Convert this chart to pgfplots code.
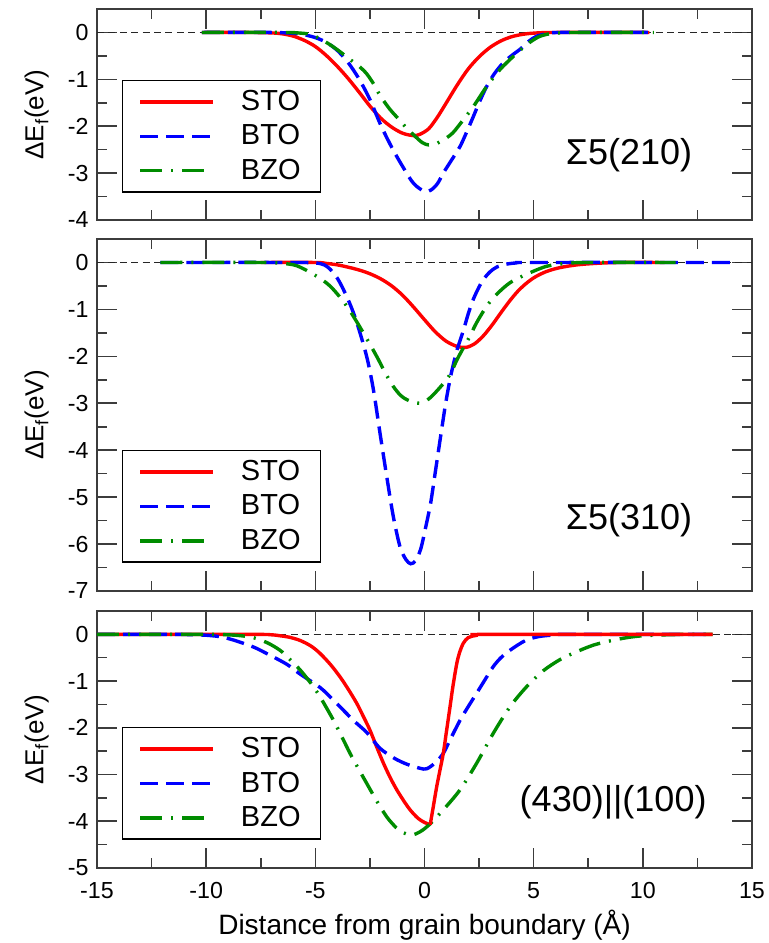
\documentclass[border=0pt]{standalone}
\usepackage{fontspec}
\setmainfont{Liberation Sans}
\usepackage{pgfplots}
\pgfplotsset{compat=1.18}

\definecolor{cRed}{RGB}{255,0,0}
\definecolor{cBlue}{RGB}{0,0,255}
\definecolor{cGreen}{RGB}{0,140,0}
\definecolor{cFrame}{RGB}{60,60,60}

\pgfplotsset{
  panel/.style={
    scale only axis, width=327.5pt,
    xmin=-15, xmax=15,
    xtick={-15,-10,...,15}, minor x tick num=1, minor y tick num=1,
    tick align=inside,
    major tick length=10pt, minor tick length=5pt,
    axis line style={cFrame, line width=0.8pt},
    tick style={cFrame, line width=0.8pt},
    /pgf/number format/assume math mode=true,
    tick label style={font=\fontsize{11.6}{13}\selectfont},
    xticklabel style={yshift=-3.9pt},
    yticklabel style={xshift=-0.7pt},
    every axis y label/.style={at={(axis description cs:-0.092,0.5)}, rotate=90, anchor=center, font=\fontsize{13}{15}\selectfont},
    ylabel={ΔE\textsubscript{f}(eV)},
    legend cell align=left,
    legend image code/.code={\draw[##1] (0pt,0pt) -- (36.5pt,0pt);},
    legend style={draw=black, line width=0.7pt, fill=white, anchor=north west,
      font=\fontsize{14.5}{16}\selectfont, inner xsep=8pt, inner ysep=2.8pt,
      row sep=1.6pt, nodes={inner sep=2pt},
      /tikz/every odd column/.append style={column sep=11pt}},
  },
  zero/.style={black!85, line width=0.6pt, dash pattern=on 3.5pt off 2.2pt, forget plot},
  sto/.style={cRed, line width=1.7pt, smooth},
  bto/.style={cBlue, line width=1.7pt, smooth, dash pattern=on 9pt off 4pt},
  bzo/.style={cGreen, line width=1.7pt, smooth, dash pattern=on 11pt off 4.5pt on 1pt off 4.5pt},
}

\begin{document}
\begin{tikzpicture}
\useasboundingbox (0pt,0pt) rectangle (384pt,-471.5pt);

% ---------- Panel 1 ----------
\begin{axis}[panel, at={(48.5pt,-110pt)}, anchor=south west, height=105.5pt,
  ymin=-4, ymax=0.5, ytick={-4,-3,...,0}, xticklabels={},
  legend style={at={(0.038,0.664)}}]
\addplot[zero] coordinates {(-15,0) (15,0)};
\addplot[sto] coordinates {(-10.2,0) (-8,0) (-7,-0.01) (-6.5,-0.03) (-6,-0.08) (-5.5,-0.17) (-5,-0.3) (-4.5,-0.49) (-4,-0.72) (-3.5,-0.98) (-3,-1.27) (-2.5,-1.57) (-2,-1.83) (-1.5,-2.02) (-1,-2.15) (-0.5,-2.2) (-0.2,-2.17) (0.2,-2.05) (0.6,-1.8) (1,-1.5) (1.5,-1.12) (2,-0.78) (2.5,-0.52) (3,-0.32) (3.5,-0.18) (4,-0.09) (4.5,-0.04) (5,-0.015) (6,0) (10.3,0)};
\addlegendentry{STO}
\addplot[bto] coordinates {(-10.2,0) (-7,0) (-6,-0.02) (-5.5,-0.05) (-5,-0.11) (-4.5,-0.21) (-4,-0.38) (-3.5,-0.64) (-3,-0.99) (-2.5,-1.43) (-2,-1.98) (-1.5,-2.45) (-1,-2.86) (-0.5,-3.22) (0,-3.39) (0.3,-3.36) (0.6,-3.22) (0.86,-3.0) (1.2,-2.75) (1.63,-2.43) (2,-2.05) (2.24,-1.79) (2.5,-1.5) (2.85,-1.15) (3.2,-0.88) (3.6,-0.65) (4,-0.49) (4.4,-0.35) (4.8,-0.18) (5.14,-0.08) (5.6,-0.03) (6.2,0) (10.3,0)};
\addlegendentry{BTO}
\addplot[bzo] coordinates {(-10.2,0) (-6.5,0) (-5.8,-0.01) (-5.24,-0.04) (-4.8,-0.13) (-4.33,-0.26) (-3.9,-0.4) (-3.4,-0.58) (-3.0,-0.72) (-2.65,-0.88) (-2.3,-1.12) (-2.04,-1.34) (-1.6,-1.63) (-1.12,-1.88) (-0.8,-2.05) (-0.51,-2.18) (-0.1,-2.35) (0.2,-2.4) (0.5,-2.38) (0.9,-2.28) (1.3,-2.14) (1.78,-1.86) (2.24,-1.58) (2.85,-1.15) (3.46,-0.79) (4.07,-0.51) (4.68,-0.26) (5.2,-0.1) (5.6,-0.04) (6.2,-0.01) (7,0) (10.5,0)};
\addlegendentry{BZO}
\node[font=\fontsize{18}{20}\selectfont] at (axis cs:9.37,-2.62) {Σ5(210)};
\end{axis}

% ---------- Panel 2 ----------
\begin{axis}[panel, at={(48.5pt,-295.5pt)}, anchor=south west, height=176pt,
  ymin=-7, ymax=0.5, ytick={-7,-6,...,0}, xticklabels={},
  legend style={at={(0.038,0.4006)}}]
\addplot[zero] coordinates {(-15,0) (15,0)};
\addplot[sto] coordinates {(-7.5,0) (-5,0) (-4.5,-0.02) (-4,-0.05) (-3.5,-0.1) (-3,-0.16) (-2.5,-0.24) (-2,-0.35) (-1.5,-0.5) (-1,-0.7) (-0.5,-0.95) (0,-1.22) (0.5,-1.48) (1,-1.68) (1.5,-1.79) (1.9,-1.81) (2.3,-1.73) (2.7,-1.56) (3.1,-1.33) (3.5,-1.07) (3.9,-0.82) (4.3,-0.6) (4.7,-0.43) (5.1,-0.3) (5.6,-0.19) (6.2,-0.11) (7,-0.05) (8,-0.015) (9,0) (11,0)};
\addlegendentry{STO}
\addplot[bto] coordinates {(-12.1,0) (-6,0) (-5,-0.01) (-4.6,-0.05) (-4.33,-0.14) (-4.0,-0.33) (-3.72,-0.57) (-3.4,-0.9) (-3.1,-1.28) (-2.65,-2.0) (-2.34,-2.71) (-2.04,-3.63) (-1.73,-4.56) (-1.43,-5.41) (-1.12,-6.06) (-0.85,-6.33) (-0.63,-6.42) (-0.4,-6.35) (-0.17,-6.1) (0.05,-5.65) (0.28,-5.13) (0.5,-4.45) (0.74,-3.7) (0.97,-3.0) (1.2,-2.42) (1.48,-1.88) (1.78,-1.45) (2.0,-1.1) (2.24,-0.78) (2.5,-0.52) (2.7,-0.36) (3.0,-0.2) (3.3,-0.1) (3.7,-0.04) (4.2,-0.01) (5,0) (14,0)};
\addlegendentry{BTO}
\addplot[bzo] coordinates {(-12.1,0) (-7.5,0) (-6.5,-0.02) (-5.85,-0.07) (-5.09,-0.25) (-4.33,-0.5) (-3.56,-0.93) (-2.8,-1.5) (-2.19,-2.0) (-1.8,-2.35) (-1.43,-2.64) (-1.1,-2.83) (-0.82,-2.92) (-0.5,-2.98) (-0.2,-3.0) (0.1,-2.94) (0.4,-2.82) (0.9,-2.56) (1.2,-2.36) (1.48,-2.08) (1.78,-1.82) (2.08,-1.57) (2.39,-1.28) (2.85,-0.93) (3.3,-0.68) (3.92,-0.43) (4.68,-0.25) (5.6,-0.08) (6.5,-0.02) (7.5,0) (11.5,0)};
\addlegendentry{BZO}
\node[font=\fontsize{18}{20}\selectfont] at (axis cs:9.37,-5.5) {Σ5(310)};
\end{axis}

% ---------- Panel 3 ----------
\begin{axis}[panel, at={(48.5pt,-433.85pt)}, anchor=south west, height=128.35pt,
  ymin=-5, ymax=0.5, ytick={-5,-4,...,0},
  legend style={at={(0.038,0.548)}},
  xlabel={Distance from grain boundary (Å)},
  every axis x label/.style={at={(axis description cs:0.5,-0.262)}, anchor=base, font=\fontsize{14}{16}\selectfont}]
\addplot[zero] coordinates {(-15,0) (15,0)};
\addplot[sto] coordinates {(-15,0) (-8,0) (-7,-0.01) (-6.62,-0.03) (-6.2,-0.06) (-5.7,-0.13) (-5.2,-0.25) (-4.78,-0.41) (-4.3,-0.65) (-3.87,-0.91) (-3.5,-1.17) (-3.1,-1.48) (-2.8,-1.76) (-2.5,-2.05) (-2.2,-2.4) (-1.88,-2.76) (-1.57,-3.07) (-1.27,-3.33) (-0.96,-3.56) (-0.66,-3.76) (-0.3,-3.94) (0,-4.03) (0.26,-4.08)};
\addlegendentry{STO}
\addplot[bto] coordinates {(-15,0) (-11.5,0) (-10.5,-0.01) (-9.97,-0.02) (-9.37,-0.05) (-8.76,-0.12) (-7.84,-0.27) (-7.23,-0.41) (-6.31,-0.64) (-5.7,-0.85) (-4.78,-1.14) (-4.17,-1.41) (-3.26,-1.84) (-2.65,-2.1) (-2.04,-2.44) (-1.4,-2.65) (-0.82,-2.78) (-0.2,-2.87) (0.1,-2.88) (0.5,-2.75) (0.86,-2.55) (1.17,-2.26) (1.63,-1.84) (2.0,-1.55) (2.39,-1.26) (2.8,-0.95) (3.15,-0.69) (3.5,-0.5) (3.92,-0.34) (4.3,-0.22) (4.68,-0.12) (5.2,-0.05) (5.75,-0.02) (6.5,0) (13.2,0)};
\addlegendentry{BTO}
\addplot[bzo] coordinates {(-15,0) (-10,0) (-9,-0.01) (-8.4,-0.03) (-7.84,-0.07) (-7.2,-0.18) (-6.62,-0.34) (-6.2,-0.52) (-5.7,-0.76) (-5.2,-1.05) (-4.78,-1.34) (-4.17,-1.84) (-3.8,-2.18) (-3.41,-2.55) (-3.0,-2.9) (-2.65,-3.19) (-2.2,-3.56) (-1.73,-3.91) (-1.3,-4.14) (-0.97,-4.25) (-0.6,-4.3) (-0.2,-4.23) (0.26,-4.06) (0.86,-3.76) (1.63,-3.33) (2.39,-2.76) (3.15,-2.12) (3.92,-1.55) (4.68,-1.12) (5.44,-0.78) (6.21,-0.54) (6.98,-0.37) (7.74,-0.23) (8.5,-0.14) (9.27,-0.07) (10,-0.03) (11,-0.01) (12,0) (13.2,0)};
\addlegendentry{BZO}
\addplot[sto, forget plot] coordinates {(0.26,-4.08) (0.4,-3.7) (0.56,-3.26) (0.7,-2.93) (0.86,-2.55) (1.0,-2.1) (1.17,-1.55) (1.3,-1.12) (1.48,-0.62) (1.62,-0.37) (1.78,-0.19) (2.0,-0.07) (2.39,-0.02) (3,0) (13.2,0)};
\node[font=\fontsize{18}{20}\selectfont] at (axis cs:8.64,-3.6) {(430)||(100)};
\end{axis}
\end{tikzpicture}
\end{document}
